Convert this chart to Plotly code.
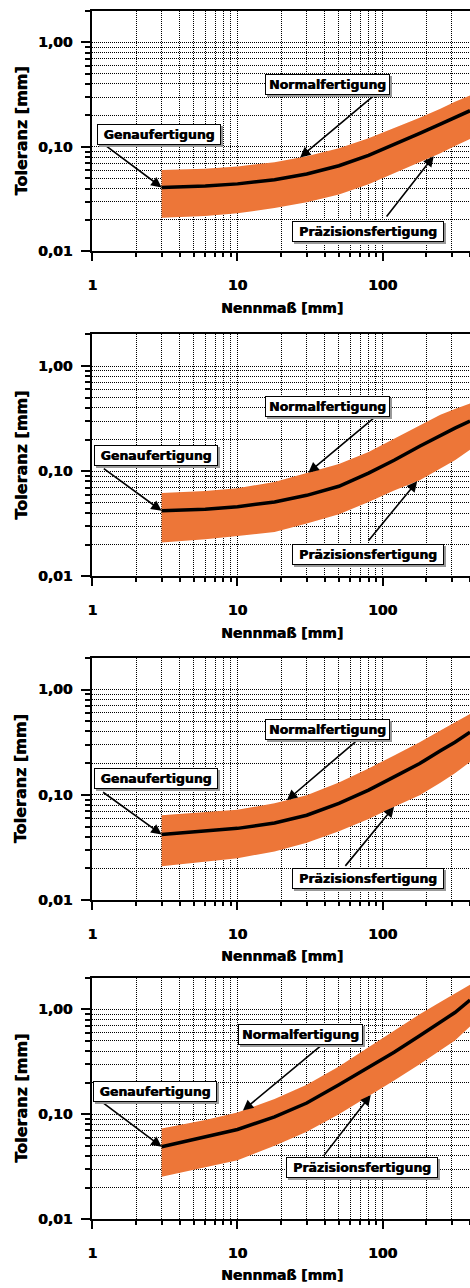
import numpy as np
import plotly.graph_objects as go

# ---------------- data ----------------
nennmass = [3, 6, 10, 18, 30, 50, 80, 120, 180, 250, 315, 400]

upper_1 = [0.060, 0.0618, 0.0648, 0.0715, 0.0815, 0.097, 0.121, 0.151, 0.19, 0.232, 0.27, 0.31]
center_1 = [0.041, 0.0422, 0.0443, 0.0485, 0.055, 0.066, 0.083, 0.105, 0.135, 0.165, 0.191, 0.222]
lower_1 = [0.021, 0.0218, 0.0232, 0.026, 0.0295, 0.035, 0.044, 0.056, 0.071, 0.087, 0.102, 0.119]

upper_2 = [0.062, 0.065, 0.069, 0.079, 0.096, 0.117, 0.152, 0.203, 0.275, 0.345, 0.39, 0.44]
center_2 = [0.042, 0.0435, 0.046, 0.051, 0.059, 0.072, 0.096, 0.127, 0.173, 0.221, 0.257, 0.30]
lower_2 = [0.021, 0.0225, 0.0242, 0.0265, 0.0318, 0.039, 0.051, 0.0655, 0.082, 0.105, 0.127, 0.16]

upper_3 = [0.064, 0.068, 0.072, 0.083, 0.099, 0.131, 0.178, 0.237, 0.316, 0.408, 0.49, 0.586]
center_3 = [0.042, 0.045, 0.048, 0.054, 0.064, 0.083, 0.111, 0.148, 0.198, 0.262, 0.316, 0.393]
lower_3 = [0.021, 0.023, 0.025, 0.029, 0.035, 0.045, 0.059, 0.077, 0.099, 0.130, 0.16, 0.205]

upper_4 = [0.073, 0.088, 0.104, 0.140, 0.191, 0.286, 0.436, 0.625, 0.90, 1.18, 1.41, 1.72]
center_4 = [0.049, 0.0605, 0.0716, 0.0945, 0.128, 0.191, 0.277, 0.39, 0.56, 0.75, 0.935, 1.23]
lower_4 = [0.0253, 0.031, 0.0365, 0.050, 0.068, 0.100, 0.148, 0.21, 0.30, 0.405, 0.506, 0.687]

# x positions (Nennmaß) where the "Normal" / "Präzision" arrows touch the band
normal_arrow_x = [27, 30.8, 21.9, 10.9]
praez_arrow_x = [225, 173, 120, 82.8]

x_tickvals = [1, 10, 100]
x_ticktext = ["1", "10", "100"]
x_minorvals = [2, 3, 4, 5, 6, 7, 8, 9, 20, 30, 40, 50, 60, 70, 80, 90, 200, 300, 400]
y_tickvals = [0.01, 0.1, 1]
y_ticktext = ["0,01", "0,10", "1,00"]
y_minorvals = [0.02, 0.03, 0.04, 0.05, 0.06, 0.07, 0.08, 0.09,
               0.2, 0.3, 0.4, 0.5, 0.6, 0.7, 0.8, 0.9, 2]

label_genau = "Genaufertigung"
label_normal = "Normalfertigung"
label_praez = "Präzisionsfertigung"
x_title = "Nennmaß [mm]"
y_title = "Toleranz [mm]"

panels = [
    (upper_1, center_1, lower_1),
    (upper_2, center_2, lower_2),
    (upper_3, center_3, lower_3),
    (upper_4, center_4, lower_4),
]

# ---------------- layout constants ----------------
W, H = 470, 1288
ORANGE = "#ED7638"
FONT = "DejaVu Sans"
HEAVY = "0.5px 0px 0px black"
x_dom = [88.3 / W, 1.0]
# plot area top/bottom in pixels
panel_px = [(11, 253), (336.5, 580), (662, 905.7), (984, 1226.7)]

# box centres (px) for each panel: genau, normal, praez
box_px = [
    [(155.3, 135.8), (325.8, 85.0), (367.0, 232.5)],
    [(152.5, 458.7), (325.8, 408.7), (366.7, 558.3)],
    [(152.5, 783.8), (325.8, 733.8), (366.7, 883.8)],
    [(151.7, 1098.3), (298.3, 1040.5), (360.8, 1174.5)],
]
# arrow tail offsets (px) relative to tip
arrow_off = [
    [(-56.7, -42.3), (76.7, -64.3), (-48.3, 61.7)],
    [(-59.3, -43.3), (68.3, -57.0), (-50.0, 61.0)],
    [(-60.0, -43.3), (70.0, -59.7), (-50.0, 60.6)],
    [(-60.0, -45.0), (79.0, -65.7), (-48.3, 62.3)],
]
box_w = [120, 121, 148]

fig = go.Figure()
layout = dict(
    width=W, height=H, margin=dict(l=0, r=0, t=0, b=0),
    paper_bgcolor="white", plot_bgcolor="white", showlegend=False,
    font=dict(family=FONT, color="black"),
)
annotations = []

def logi(xv, xs, ys):
    return 10 ** np.interp(np.log10(xv), np.log10(xs), np.log10(ys))

for i, (up, cen, low) in enumerate(panels):
    n = i + 1
    xa = "x" if n == 1 else f"x{n}"
    ya = "y" if n == 1 else f"y{n}"
    fig.add_trace(go.Scatter(x=nennmass, y=up, mode="lines", line=dict(width=0, color=ORANGE),
                             xaxis=xa, yaxis=ya, hoverinfo="skip"))
    fig.add_trace(go.Scatter(x=nennmass, y=low, mode="lines", line=dict(width=0, color=ORANGE),
                             fill="tonexty", fillcolor=ORANGE, xaxis=xa, yaxis=ya, hoverinfo="skip"))
    fig.add_trace(go.Scatter(x=nennmass, y=cen, mode="lines", line=dict(width=3.5, color="black"),
                             xaxis=xa, yaxis=ya, hoverinfo="skip"))

    top, bot = panel_px[i]
    dom = [1 - bot / H, 1 - top / H]
    axis_common = dict(
        type="log", showline=True, linewidth=2, linecolor="black",
        showgrid=True, gridcolor="black", gridwidth=1, griddash="1px,1px",
        ticks="outside", tickcolor="black", tickwidth=1.5,
        tickmode="array", tickfont=dict(family=FONT, size=14, color="black", weight="bold", shadow=HEAVY),
        zeroline=False, fixedrange=True,
    )
    layout[f"xaxis{n}"] = dict(
        axis_common, domain=x_dom, anchor=ya, range=[0, np.log10(400)],
        tickvals=x_tickvals, ticktext=x_ticktext, ticklen=8, mirror=True,
        ticklabelstandoff=12,
        minor=dict(tickvals=x_minorvals, ticks="outside", ticklen=4, tickcolor="black",
                   showgrid=True, gridcolor="black", gridwidth=1, griddash="1px,1px"),
    )
    layout[f"yaxis{n}"] = dict(
        axis_common, domain=dom, anchor=xa, range=[-2, np.log10(2)],
        tickvals=y_tickvals, ticktext=y_ticktext, ticklen=9,
        ticklabelstandoff=6,
        minor=dict(tickvals=y_minorvals, ticks="outside", ticklen=5, tickcolor="black",
                   showgrid=True, gridcolor="black", gridwidth=1, griddash="1px,1px"),
    )

    # axis titles
    annotations.append(dict(text=y_title, xref="paper", yref="paper", x=16.5 / W,
                            y=1 - (top + bot) / 2 / H, showarrow=False, textangle=-90,
                            font=dict(family=FONT, size=16, weight="bold", color="black", shadow=HEAVY),
                            xanchor="center", yanchor="middle"))
    annotations.append(dict(text=x_title, xref="paper", yref="paper", x=279.5 / W,
                            y=1 - (bot + 56.5) / H, showarrow=False,
                            font=dict(family=FONT, size=14, weight="bold", color="black", shadow=HEAVY),
                            xanchor="center", yanchor="middle"))

    # arrows
    tips = [
        (nennmass[0], cen[0]),
        (normal_arrow_x[i], logi(normal_arrow_x[i], nennmass, up)),
        (praez_arrow_x[i], logi(praez_arrow_x[i], nennmass, low)),
    ]
    for (tx, ty), (dx, dy) in zip(tips, arrow_off[i]):
        annotations.append(dict(x=np.log10(tx), y=np.log10(ty), xref=xa, yref=ya, text="",
                                showarrow=True, ax=dx, ay=dy, axref="pixel", ayref="pixel",
                                arrowhead=2, arrowsize=1.3, arrowwidth=1.6, arrowcolor="black",
                                standoff=0, startstandoff=0))
    # boxes with shadow
    for (bx, by), txt, bw in zip(box_px[i], [label_genau, label_normal, label_praez], box_w):
        for shadow in (True, False):
            annotations.append(dict(
                text=txt, xref="paper", yref="paper", x=bx / W, y=1 - by / H,
                xanchor="center", yanchor="middle", showarrow=False,
                width=bw, height=17, borderpad=1, borderwidth=1,
                bordercolor="#999999" if shadow else "black",
                bgcolor="#999999" if shadow else "white",
                xshift=2 if shadow else 0, yshift=-2 if shadow else 0,
                font=dict(family=FONT, size=12.5, weight="bold",
                          color="#999999" if shadow else "black",
                          shadow="none" if shadow else HEAVY),
            ))

layout["annotations"] = annotations
fig.update_layout(**layout)
fig.write_html("out.html", config={"displayModeBar": False},
               post_script="document.body.style.margin='0';document.body.style.overflow='hidden';")
